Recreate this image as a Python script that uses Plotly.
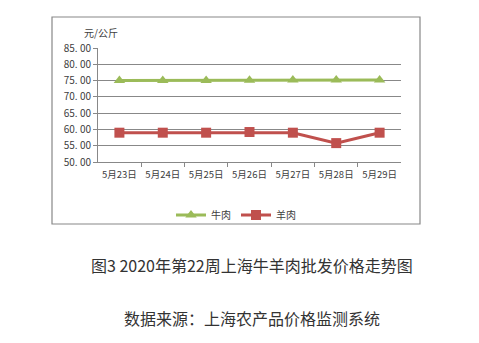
import plotly.graph_objects as go

dates = ["5月23日", "5月24日", "5月25日", "5月26日", "5月27日", "5月28日", "5月29日"]
beef = [75.0, 75.0, 75.0, 75.1, 75.2, 75.2, 75.2]
mutton = [59.0, 59.0, 59.0, 59.2, 59.0, 55.8, 59.0]
y_ticks = [50, 55, 60, 65, 70, 75, 80, 85]
y_ticktext = ["50. 00", "55. 00", "60. 00", "65. 00", "70. 00", "75. 00", "80. 00", "85. 00"]

W, H = 479, 343
L, R, T, B = 98, 401, 48, 162  # plot area in px

def px(x):
    return (x - L) / (R - L)

def py(y):
    return (B - y) / (B - T)

fig = go.Figure()
fig.add_trace(go.Scatter(
    x=dates, y=beef, name="牛肉", mode="lines+markers",
    line=dict(color="#9BBB59", width=3),
    marker=dict(symbol="triangle-up", size=10, color="#9BBB59"),
))
fig.add_trace(go.Scatter(
    x=dates, y=mutton, name="羊肉", mode="lines+markers",
    line=dict(color="#C0504D", width=3),
    marker=dict(symbol="square", size=10, color="#C0504D"),
))

font_cn = "Noto Sans CJK SC"
fig.update_layout(
    width=W, height=H,
    margin=dict(l=L, r=W - R, t=T, b=H - B),
    paper_bgcolor="white", plot_bgcolor="white",
    font=dict(family=font_cn, size=10, color="#404040"),
    showlegend=True,
    legend=dict(orientation="h", x=px(236), y=py(215), xanchor="center", yanchor="middle",
                font=dict(size=10, color="#404040"), itemwidth=30, bgcolor="rgba(0,0,0,0)"),
    xaxis=dict(
        type="category", tickson="boundaries", ticks="outside", ticklen=4,
        tickcolor="#888888", showline=True, linecolor="#888888", linewidth=1,
        showgrid=False, tickangle=0, ticklabelstandoff=4,
        tickfont=dict(size=9.5, color="#404040"), fixedrange=True,
    ),
    yaxis=dict(
        range=[50, 85], tickvals=y_ticks, ticktext=y_ticktext,
        ticks="outside", ticklen=4, tickcolor="#888888",
        showline=True, linecolor="#888888", linewidth=1,
        showgrid=True, gridcolor="#888888", gridwidth=1, zeroline=False,
        tickfont=dict(size=10, color="#404040"), fixedrange=True,
    ),
    shapes=[
        dict(type="rect", xref="paper", yref="paper",
             x0=px(52), x1=px(420), y0=py(224), y1=py(17),
             line=dict(color="#888888", width=1.2), fillcolor="rgba(0,0,0,0)", layer="below"),
    ],
    annotations=[
        dict(text="元/公斤", xref="paper", yref="paper", x=px(101), y=py(32),
             xanchor="center", yanchor="middle",
             showarrow=False, font=dict(size=10, color="#404040", family=font_cn)),
        dict(text="图3 2020年第22周上海牛羊肉批发价格走势图", xref="paper", yref="paper",
             x=px(252), y=py(265), xanchor="center", yanchor="middle", showarrow=False,
             font=dict(size=16, color="#333333", family=font_cn)),
        dict(text="数据来源：上海农产品价格监测系统", xref="paper", yref="paper",
             x=px(252), y=py(318), xanchor="center", yanchor="middle", showarrow=False,
             font=dict(size=16, color="#333333", family=font_cn)),
    ],
)

fig.write_html("out.html")
